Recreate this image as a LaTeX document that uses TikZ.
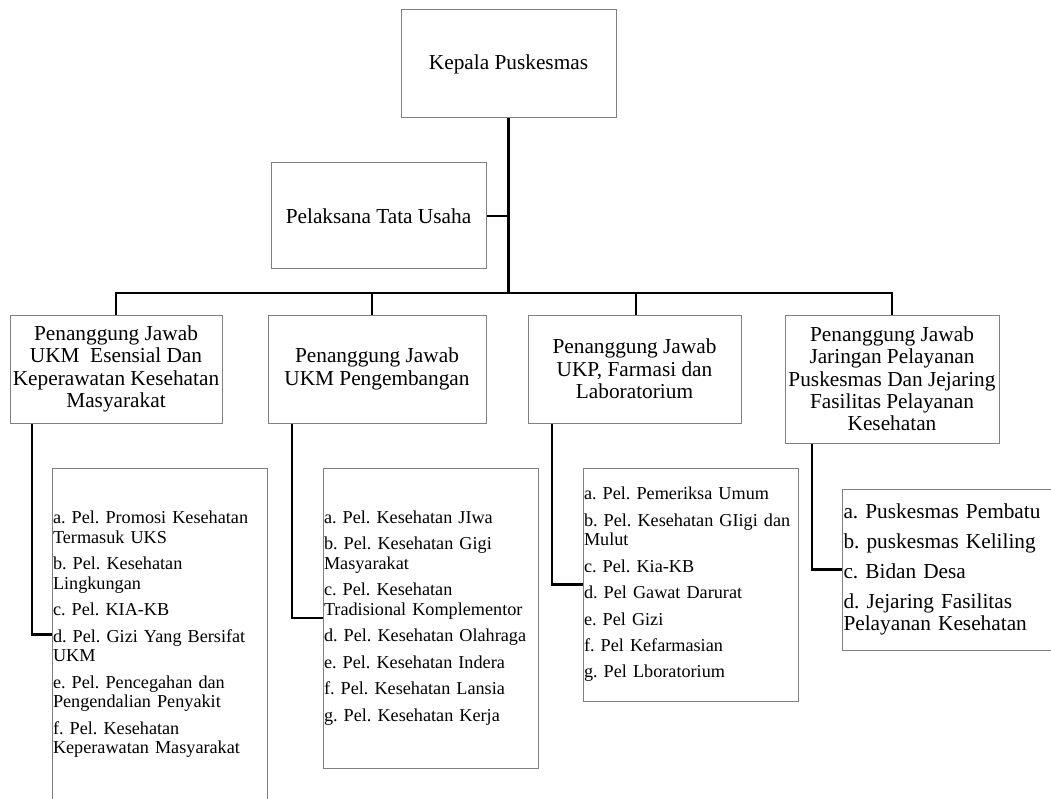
\documentclass[tikz,border=0pt]{standalone}
\usepackage{fontspec}
\setmainfont{Liberation Serif}
\frenchspacing
\tikzset{
  box/.style={draw=black!50, line width=1pt, rectangle, inner sep=2pt, align=center,
    font=\fontsize{21.3}{22.3}\selectfont\frenchspacing},
  listbox/.style={draw=black!50, line width=1pt, rectangle, inner xsep=1pt, inner ysep=0pt, align=left,
    font=\fontsize{18.2}{19.6}\selectfont\frenchspacing},
  biglist/.style={listbox, font=\fontsize{21.3}{22}\selectfont\frenchspacing},
  conn/.style={draw=black, line width=2.6pt, line join=miter}
}
\begin{document}
\begin{tikzpicture}[x=1pt,y=-1pt]
\useasboundingbox (0,0) rectangle (1051,799);
\clip (0,0) rectangle (1051,799);
\fill[white] (0,0) rectangle (1051,799);
% top
\node[box, minimum width=215pt, minimum height=108pt] (k) at (508.5,64) {Kepala Puskesmas};
\node[box, minimum width=215pt, minimum height=106pt] (t) at (378.5,216) {Pelaksana Tata Usaha};
% heads
\node[box, minimum width=212pt, minimum height=108pt] (h1) at (116,369)
  {Penanggung Jawab\\UKM\ \ Esensial Dan\\Keperawatan Kesehatan\\Masyarakat};
\node[box, minimum width=218pt, minimum height=108pt] (h2) at (377,369)
  {Penanggung Jawab\\UKM Pengembangan};
\node[box, minimum width=213pt, minimum height=108pt] (h3) at (634.5,369)
  {Penanggung Jawab\\UKP, Farmasi dan\\Laboratorium};
\node[box, minimum width=214pt, minimum height=128pt] (h4) at (892,379)
  {Penanggung Jawab\\Jaringan Pelayanan\\Puskesmas Dan Jejaring\\Fasilitas Pelayanan\\Kesehatan};
% lists
\node[listbox, text width=213pt, minimum height=333pt] (l1) at (159.5,634.5)
  {a. Pel. Promosi Kesehatan\\Termasuk UKS\\[6.8pt]
   b. Pel. Kesehatan\\Lingkungan\\[6.8pt]
   c. Pel. KIA-KB\\[6.8pt]
   d. Pel. Gizi Yang Bersifat\\UKM\\[6.8pt]
   e. Pel. Pencegahan dan\\Pengendalian Penyakit\\[6.8pt]
   f. Pel. Kesehatan\\Keperawatan Masyarakat};
\node[listbox, text width=213pt, minimum height=300pt] (l2) at (430.5,618)
  {a. Pel. Kesehatan JIwa\\[6.8pt]
   b. Pel. Kesehatan Gigi\\Masyarakat\\[6.8pt]
   c. Pel. Kesehatan\\Tradisional Komplementor\\[6.8pt]
   \mbox{d. Pel. Kesehatan Olahraga}\\[6.8pt]
   e. Pel. Kesehatan Indera\\[6.8pt]
   f. Pel. Kesehatan Lansia\\[6.8pt]
   g. Pel. Kesehatan Kerja};
\node[listbox, text width=213pt, minimum height=233pt] (l3) at (690.5,584.5)
  {a. Pel. Pemeriksa Umum\\[6.8pt]
   \mbox{b. Pel. Kesehatan GIigi dan}\\Mulut\\[6.8pt]
   c. Pel. Kia-KB\\[6.8pt]
   d. Pel Gawat Darurat\\[6.8pt]
   e. Pel Gizi\\[6.8pt]
   f. Pel Kefarmasian\\[6.8pt]
   g. Pel Lboratorium};
\node[biglist, text width=215pt, minimum height=161pt] (l4) at (951,569.5)
  {a. Puskesmas Pembatu\\[8pt]
   b. puskesmas Keliling\\[8pt]
   c. Bidan Desa\\[8pt]
   d. Jejaring Fasilitas\\Pelayanan Kesehatan};
% coordinates
\coordinate (bus) at (0,293);
\coordinate (d2) at (372,293);
\coordinate (d3) at (636,293);
\coordinate (c1) at (32,0);
\coordinate (c2) at (292,0);
\coordinate (c3) at (552,0);
\coordinate (c4) at (812,0);
% connectors
\draw[conn] (k.south) -- (k.south |- bus);
\draw[conn] (t.east) -- (t.east -| k.south);
\draw[conn] (h1.north) -- (h1.north |- bus) -- (h4.north |- bus) -- (h4.north);
\draw[conn] (d2) -- (d2 |- h2.north);
\draw[conn] (d3) -- (d3 |- h3.north);
\draw[conn] (h1.south -| c1) |- (l1.west);
\draw[conn] (h2.south -| c2) |- (l2.west);
\draw[conn] (h3.south -| c3) |- (l3.west);
\draw[conn] (h4.south -| c4) |- (l4.west);
\end{tikzpicture}
\end{document}
